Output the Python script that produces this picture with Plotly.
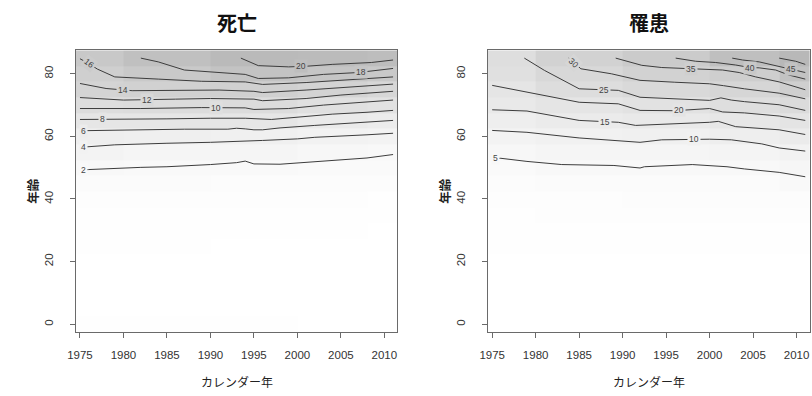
import numpy as np
import plotly.graph_objects as go

# ---------------- data ----------------
AGES = [0, 5, 10, 15, 20, 25, 30, 35, 40, 45, 50, 55, 60, 65, 70, 75, 80, 85]
GRID_YEARS = [1975, 1985, 1995, 2005, 2011]
X_TICKS = [1975, 1980, 1985, 1990, 1995, 2000, 2005, 2010]
Y_TICKS = [0, 20, 40, 60, 80]

death_grid = [
    [0.3, 0.25, 0.2, 0.15, 0.12],
    [0.05, 0.04, 0.03, 0.03, 0.02],
    [0.05, 0.04, 0.03, 0.03, 0.02],
    [0.1, 0.08, 0.07, 0.06, 0.05],
    [0.15, 0.13, 0.12, 0.1, 0.08],
    [0.2, 0.17, 0.15, 0.13, 0.1],
    [0.3, 0.25, 0.22, 0.18, 0.15],
    [0.45, 0.4, 0.35, 0.3, 0.25],
    [0.75, 0.65, 0.6, 0.5, 0.45],
    [1.2, 1.1, 1.0, 0.9, 0.8],
    [2.1, 1.9, 1.8, 1.6, 1.4],
    [3.6, 3.2, 3.0, 2.6, 2.2],
    [5.3, 5.0, 4.6, 4.0, 3.7],
    [7.8, 7.6, 7.6, 6.6, 6.0],
    [10.6, 10.7, 10.9, 9.7, 9.0],
    [13.2, 14.2, 14.6, 13.6, 12.4],
    [15.0, 16.8, 18.6, 18.0, 16.7],
    [17.0, 19.5, 21.5, 21.2, 20.5],
]

incid_grid = [
    [0.3, 0.3, 0.25, 0.25, 0.25],
    [0.15, 0.15, 0.15, 0.15, 0.15],
    [0.15, 0.15, 0.15, 0.15, 0.15],
    [0.2, 0.2, 0.2, 0.2, 0.2],
    [0.3, 0.3, 0.3, 0.3, 0.3],
    [0.4, 0.45, 0.5, 0.5, 0.55],
    [0.6, 0.7, 0.75, 0.8, 0.85],
    [0.9, 1.1, 1.2, 1.3, 1.4],
    [1.5, 1.8, 1.9, 2.0, 2.3],
    [2.5, 3.0, 3.0, 3.2, 4.5],
    [4.0, 4.8, 4.9, 5.4, 6.5],
    [6.1, 7.1, 7.5, 8.0, 9.7],
    [8.9, 10.4, 11.2, 12.7, 14.4],
    [12.3, 14.8, 16.0, 17.5, 19.9],
    [16.0, 19.2, 21.5, 24.0, 26.7],
    [19.2, 24.8, 27.8, 30.2, 35.2],
    [22.5, 28.7, 32.8, 36.0, 44.5],
    [24.0, 33.0, 38.0, 47.0, 52.0],
]

# contour lines of 死亡 (year, age)
d2_years = [1975, 1976, 1982, 1985, 1990, 1993, 1994, 1995, 1998, 2000, 2004, 2008, 2011]
d2_ages = [49.2, 49.4, 50.1, 50.3, 51.0, 51.6, 52.1, 51.2, 51.1, 51.5, 52.4, 53.1, 54.2]
d4_years = [1975, 1979, 1985, 1990, 1996, 2000, 2002, 2004, 2008, 2011]
d4_ages = [56.5, 57.3, 57.8, 58.1, 58.7, 59.2, 59.7, 59.9, 60.5, 61.0]
d6_years = [1975, 1981, 1987, 1992, 1993, 1994, 1995, 1996, 1998, 2002, 2006, 2011]
d6_ages = [61.8, 62.1, 62.3, 62.3, 62.6, 62.4, 62.1, 62.1, 62.7, 63.5, 64.2, 65.1]
d8_years = [1975, 1978, 1985, 1990, 1994, 1997, 2000, 2004, 2008, 2011]
d8_ages = [65.4, 65.4, 65.6, 65.8, 65.8, 65.4, 66.2, 67.1, 67.7, 68.3]
d10_years = [1975, 1982, 1989, 1994, 1995, 1999, 2003, 2007, 2011]
d10_ages = [68.9, 68.9, 69.2, 69.1, 68.6, 68.9, 70.0, 70.8, 71.6]
d12_years = [1975, 1980, 1986, 1990, 1995, 1996, 2001, 2005, 2011]
d12_ages = [72.4, 71.6, 71.9, 72.1, 71.9, 71.4, 72.1, 73.2, 74.4]
d14_years = [1975, 1978, 1981, 1986, 1991, 1995, 1996, 2001, 2005, 2011]
d14_ages = [76.9, 75.3, 74.6, 74.6, 74.8, 74.4, 74.0, 74.8, 75.6, 76.7]
d16_years = [1975, 1976, 1977, 1979, 1984, 1989, 1994, 1996, 2001, 2005, 2011]
d16_ages = [84.8, 83.3, 81.5, 79.0, 78.3, 77.6, 77.4, 76.6, 77.2, 78.0, 79.0]
d18_years = [1982, 1984, 1987, 1990, 1994, 1995.5, 1999, 2003, 2007, 2011]
d18_ages = [85.0, 83.8, 81.2, 80.6, 79.8, 78.5, 78.7, 79.8, 80.4, 81.7]
d20_years = [1993.5, 1995.5, 1999, 2001, 2004, 2008.5, 2011]
d20_ages = [85.0, 82.6, 82.2, 82.4, 83.0, 83.6, 84.4]

# contour lines of 罹患 (year, age)
i5_years = [1975, 1976, 1979, 1983, 1989, 1992, 1992.5, 1998, 2002, 2004, 2008, 2011]
i5_ages = [53.0, 53.0, 52.0, 51.0, 50.7, 49.9, 50.3, 51.0, 50.3, 49.6, 48.5, 47.1]
i10_years = [1975, 1979, 1985, 1989, 1992, 1994.5, 1998, 2000, 2002.5, 2006, 2008, 2011]
i10_ages = [61.9, 61.3, 59.5, 58.7, 58.1, 58.9, 59.0, 59.1, 58.9, 57.6, 56.3, 55.3]
i15_years = [1975, 1979, 1985, 1989.5, 1991.5, 1996, 2000, 2001, 2003, 2008, 2011]
i15_ages = [68.5, 68.1, 65.1, 64.5, 63.5, 64.0, 64.5, 64.8, 63.1, 62.1, 60.6]
i20_years = [1975, 1979, 1985, 1989.5, 1992, 1996, 2000, 2001.5, 2004, 2008, 2011]
i20_ages = [76.3, 74.1, 70.9, 70.4, 68.3, 68.2, 68.9, 67.8, 67.5, 66.5, 65.1]
i25_years = [1978.7, 1981, 1985, 1989.5, 1992, 1996, 2000, 2001.3, 2002.5, 2004, 2008, 2011]
i25_ages = [85.0, 81.1, 75.2, 74.7, 72.5, 72.0, 71.5, 72.3, 71.6, 71.1, 70.1, 68.3]
i30_years = [1983.8, 1984.5, 1985.2, 1988.7, 1992, 1996, 2000, 2001.6, 2004, 2008, 2011]
i30_ages = [85.0, 83.3, 81.6, 80.0, 77.9, 77.3, 76.8, 76.2, 75.2, 73.8, 72.0]
i35_years = [1989.2, 1990.6, 1992.2, 1994.5, 1998, 2001.5, 2003.4, 2005.3, 2008, 2011]
i35_ages = [85.0, 84.0, 82.7, 82.0, 81.5, 81.2, 80.4, 79.0, 77.4, 74.9]
i40_years = [1996.1, 1998.4, 2000.7, 2003.0, 2004.6, 2005.7, 2007.6, 2009.1, 2011]
i40_ages = [85.0, 84.0, 83.6, 82.8, 82.0, 81.9, 81.2, 79.6, 78.3]
i45_years = [2002.6, 2003.8, 2005.7, 2007.6, 2009.5, 2010.6, 2011]
i45_ages = [85.0, 84.4, 83.8, 82.6, 81.3, 80.6, 80.4]
i50_years = [2008, 2009.9, 2011]
i50_ages = [85.0, 84.0, 83.0]

death_lines = [
    (2, d2_years, d2_ages), (4, d4_years, d4_ages), (6, d6_years, d6_ages),
    (8, d8_years, d8_ages), (10, d10_years, d10_ages), (12, d12_years, d12_ages),
    (14, d14_years, d14_ages), (16, d16_years, d16_ages), (18, d18_years, d18_ages),
    (20, d20_years, d20_ages),
]
incid_lines = [
    (5, i5_years, i5_ages), (10, i10_years, i10_ages), (15, i15_years, i15_ages),
    (20, i20_years, i20_ages), (25, i25_years, i25_ages), (30, i30_years, i30_ages),
    (35, i35_years, i35_ages), (40, i40_years, i40_ages), (45, i45_years, i45_ages),
    (50, i50_years, i50_ages),
]

# label placement (year along line, rotation)
death_label_pos = {2: (1975.4, 0), 4: (1975.4, 0), 6: (1975.4, 0), 8: (1977.6, 0),
                   10: (1990.6, 0), 12: (1982.7, 0), 14: (1979.9, 0), 16: (1976.0, 38),
                   18: (2007.3, 0), 20: (2000.4, 0)}
incid_label_pos = {5: (1975.4, 0), 10: (1998.2, 0), 15: (1988.0, 0), 20: (1996.5, 0),
                   25: (1987.9, 0), 30: (1984.4, 45), 35: (1997.9, 0), 40: (2004.6, 0),
                   45: (2009.4, 0)}

# ---------------- figure ----------------
W, H = 812, 396
DARK = 184  # darkest grey level
FONT = "Liberation Sans, Arial, sans-serif"
CJK = "Noto Sans CJK JP, Noto Sans CJK SC, sans-serif"

fig = go.Figure()

panels = [
    ("x", "y", death_grid, 22.0, death_lines, death_label_pos),
    ("x2", "y2", incid_grid, 52.0, incid_lines, incid_label_pos),
]

annotations = []
dark_hex = "#%02x%02x%02x" % (DARK, DARK, DARK)
for xr, yr, grid, zmax, lines, lab in panels:
    fig.add_trace(go.Heatmap(
        x=GRID_YEARS, y=AGES, z=grid, zmin=0, zmax=zmax,
        colorscale=[[0, "#ffffff"], [1, dark_hex]], showscale=False,
        xaxis=xr, yaxis=yr, hoverinfo="skip", zsmooth=False,
    ))
    for level, xs, ys in lines:
        fig.add_trace(go.Scatter(
            x=xs, y=ys, mode="lines", xaxis=xr, yaxis=yr,
            line=dict(color="#3c3c3c", width=1), showlegend=False, hoverinfo="skip",
        ))
        if level in lab:
            lx, ang = lab[level]
            ly = float(np.interp(lx, xs, ys))
            g = int(round(255 - (255 - DARK) * min(level / zmax, 1.0)))
            annotations.append(dict(
                x=lx, y=ly, xref=xr, yref=yr, text=str(level), showarrow=False,
                font=dict(family=FONT, size=8.5, color="#444444"),
                bgcolor="#%02x%02x%02x" % (g, g, g), borderpad=1, textangle=ang,
                xanchor="center", yanchor="middle",
            ))

axis_common = dict(showgrid=False, zeroline=False, showline=True, mirror=True,
                   linecolor="#6a6a6a", linewidth=1, ticks="outside", ticklen=5,
                   tickcolor="#6a6a6a", tickfont=dict(family=FONT, size=11.5, color="#333333"))

yb, yt = (H - 332) / H, (H - 50.3) / H
fig.update_layout(
    width=W, height=H, margin=dict(l=0, r=0, t=0, b=0),
    paper_bgcolor="white", plot_bgcolor="white", showlegend=False,
    xaxis=dict(domain=[68.3 / W, 393.3 / W], range=[1974.5, 2011.5], tickvals=X_TICKS,
               anchor="y", ticklabelstandoff=7, **axis_common),
    yaxis=dict(domain=[yb, yt], range=[-2.5, 87.5], tickvals=Y_TICKS, tickangle=-90,
               anchor="x", ticklabelstandoff=12, **axis_common),
    xaxis2=dict(domain=[484.6 / W, 809.6 / W], range=[1974.5, 2011.5], tickvals=X_TICKS,
                anchor="y2", ticklabelstandoff=7, **axis_common),
    yaxis2=dict(domain=[yb, yt], range=[-2.5, 87.5], tickvals=Y_TICKS, tickangle=-90,
                anchor="x2", ticklabelstandoff=12, **axis_common),
)

titles = [("死亡", 230.8), ("罹患", 647.1)]
for t, cx in titles:
    annotations.append(dict(x=cx / W, y=(H - 22) / H, xref="paper", yref="paper", text="<b>%s</b>" % t,
                            showarrow=False, font=dict(family=CJK, size=20, color="#111111"),
                            xanchor="center", yanchor="middle"))
    annotations.append(dict(x=cx / W, y=(H - 381) / H, xref="paper", yref="paper", text="カレンダー年",
                            showarrow=False, font=dict(family=CJK, size=12, color="#222222"),
                            xanchor="center", yanchor="middle"))
for cx in [24, 440]:
    annotations.append(dict(x=cx / W, y=(H - 191) / H, xref="paper", yref="paper", text="<b>年齢</b>",
                            showarrow=False, textangle=-90, font=dict(family=CJK, size=12.5, color="#222222"),
                            xanchor="center", yanchor="middle"))

fig.update_layout(annotations=annotations)
fig.write_html(
    "out.html",
    config={"displayModeBar": False},
    post_script="document.body.style.margin='0';document.body.style.padding='0';"
                "document.documentElement.style.margin='0';document.documentElement.style.overflow='hidden';"
                "document.body.style.overflow='hidden';",
)
